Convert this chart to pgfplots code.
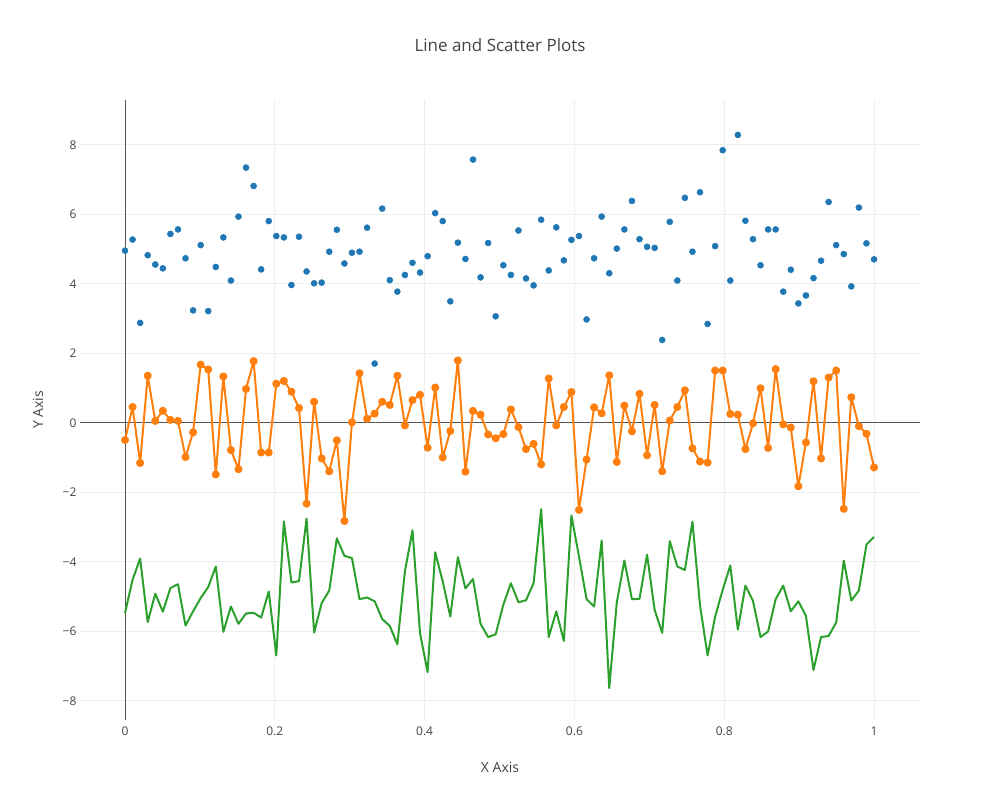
\documentclass[border=0pt]{standalone}
\usepackage{pgfplots}
\usepackage{pgfplotstable}
\pgfplotsset{compat=1.18}
\usepackage{fontspec}
\setmainfont{Open Sans}
\definecolor{txt}{HTML}{444444}
\definecolor{gridc}{HTML}{EEEEEE}
\definecolor{zc}{HTML}{555555}
\definecolor{cblue}{HTML}{1F77B4}
\definecolor{corange}{HTML}{FF7F0E}
\definecolor{cgreen}{HTML}{2CA02C}
\pgfplotstableread{
x b o g
0.0000 4.96 -0.49 -5.47
0.0101 5.28 0.46 -4.51
0.0202 2.88 -1.15 -3.90
0.0303 4.83 1.36 -5.73
0.0404 4.56 0.06 -4.91
0.0505 4.45 0.35 -5.43
0.0606 5.44 0.09 -4.75
0.0707 5.57 0.06 -4.64
0.0808 4.74 -0.98 -5.83
0.0909 3.24 -0.27 -5.42
0.1010 5.12 1.68 -5.04
0.1111 3.22 1.54 -4.72
0.1212 4.49 -1.48 -4.13
0.1313 5.34 1.34 -6.01
0.1414 4.10 -0.78 -5.28
0.1515 5.94 -1.33 -5.78
0.1616 7.35 0.98 -5.48
0.1717 6.82 1.78 -5.46
0.1818 4.42 -0.85 -5.60
0.1919 5.81 -0.85 -4.85
0.2020 5.38 1.13 -6.69
0.2121 5.34 1.21 -2.83
0.2222 3.97 0.90 -4.59
0.2323 5.36 0.43 -4.55
0.2424 4.36 -2.32 -2.75
0.2525 4.02 0.61 -6.03
0.2626 4.04 -1.02 -5.18
0.2727 4.93 -1.39 -4.82
0.2828 5.56 -0.50 -3.32
0.2929 4.59 -2.82 -3.82
0.3030 4.90 0.02 -3.89
0.3131 4.93 1.43 -5.07
0.3232 5.62 0.12 -5.02
0.3333 1.71 0.27 -5.13
0.3434 6.17 0.61 -5.64
0.3535 4.11 0.52 -5.84
0.3636 3.78 1.36 -6.37
0.3737 4.26 -0.07 -4.27
0.3838 4.61 0.66 -3.09
0.3939 4.33 0.81 -6.05
0.4040 4.80 -0.71 -7.17
0.4141 6.04 1.02 -3.72
0.4242 5.81 -0.99 -4.56
0.4343 3.50 -0.23 -5.57
0.4444 5.19 1.80 -3.86
0.4545 4.72 -1.40 -4.76
0.4646 7.58 0.35 -4.49
0.4747 4.19 0.24 -5.78
0.4848 5.18 -0.33 -6.16
0.4949 3.07 -0.44 -6.08
0.5051 4.54 -0.32 -5.23
0.5152 4.26 0.39 -4.61
0.5253 5.54 -0.12 -5.16
0.5354 4.16 -0.75 -5.10
0.5455 3.96 -0.60 -4.61
0.5556 5.85 -1.19 -2.48
0.5657 4.39 1.28 -6.16
0.5758 5.63 -0.07 -5.42
0.5859 4.68 0.46 -6.27
0.5960 5.27 0.89 -2.66
0.6061 5.38 -2.50 -3.84
0.6162 2.98 -1.05 -5.07
0.6263 4.74 0.45 -5.28
0.6364 5.94 0.28 -3.38
0.6465 4.31 1.37 -7.63
0.6566 5.02 -1.12 -5.16
0.6667 5.57 0.50 -3.96
0.6768 6.39 -0.24 -5.07
0.6869 5.29 0.84 -5.06
0.6970 5.07 -0.93 -3.79
0.7071 5.04 0.52 -5.38
0.7172 2.39 -1.39 -6.04
0.7273 5.79 0.07 -3.40
0.7374 4.10 0.46 -4.13
0.7475 6.48 0.94 -4.23
0.7576 4.93 -0.73 -2.84
0.7677 6.64 -1.11 -5.25
0.7778 2.85 -1.14 -6.69
0.7879 5.09 1.51 -5.57
0.7980 7.85 1.51 -4.80
0.8081 4.10 0.26 -4.10
0.8182 8.29 0.24 -5.95
0.8283 5.82 -0.75 -4.68
0.8384 5.29 -0.01 -5.12
0.8485 4.54 1.00 -6.16
0.8586 5.57 -0.72 -6.00
0.8687 5.57 1.55 -5.07
0.8788 3.78 -0.04 -4.68
0.8889 4.41 -0.13 -5.42
0.8990 3.44 -1.82 -5.13
0.9091 3.67 -0.56 -5.55
0.9192 4.17 1.20 -7.11
0.9293 4.67 -1.02 -6.16
0.9394 6.36 1.31 -6.13
0.9495 5.12 1.51 -5.74
0.9596 4.86 -2.47 -3.96
0.9697 3.93 0.74 -5.11
0.9798 6.20 -0.09 -4.82
0.9899 5.17 -0.31 -3.50
1.0000 4.71 -1.28 -3.28
}\datatable
\begin{document}
\begin{tikzpicture}
\path[use as bounding box] (-60pt,-60pt) rectangle (690pt,540pt);
\begin{axis}[
  at={(0,0)}, anchor=south west,
  width=630pt, height=465pt, scale only axis,
  xmin=-0.0601, xmax=1.0614, ymin=-8.547, ymax=9.295,
  axis line style={draw=none},
  major tick length=0pt,
  xtick={0.2,0.4,0.6,0.8,1},
  xticklabels={0.2,0.4,0.6,0.8,1},
  ytick={-8,-6,-4,-2,2,4,6,8},
  yticklabels={−8,−6,−4,−2,2,4,6,8},
  extra x ticks={0}, extra x tick labels={0},
  extra y ticks={0}, extra y tick labels={0},
  extra tick style={grid style={color=zc, line width=0.75pt}},
  grid=major,
  grid style={color=gridc, line width=0.75pt},
  tick label style={font=\fontsize{9}{11}\selectfont, text=txt},
  xticklabel style={anchor=north, inner sep=0pt, yshift=-5pt},
  yticklabel style={anchor=east, inner sep=0pt, xshift=-2.5pt},
  clip=false,
]
\addplot[only marks, mark=*, mark size=2.25pt, color=cblue, mark options={draw=none, fill=cblue}] table[x=x, y=b] {\datatable};
\addplot[color=corange, line width=1.5pt, line join=round, mark=*, mark size=2.25pt, mark options={draw=none, fill=corange}] table[x=x, y=o] {\datatable};
\addplot[color=cgreen, line width=1.5pt, line join=round, no marks] table[x=x, y=g] {\datatable};
\end{axis}
\node[text=txt, font=\fontsize{12.75}{15}\selectfont] at (315pt,506pt) {Line and Scatter Plots};
\node[text=txt, font=\fontsize{10.5}{13}\selectfont] at (315pt,-35.25pt) {X Axis};
\node[text=txt, font=\fontsize{10.5}{13}\selectfont, rotate=90] at (-31.5pt,232.5pt) {Y Axis};
\end{tikzpicture}
\end{document}
